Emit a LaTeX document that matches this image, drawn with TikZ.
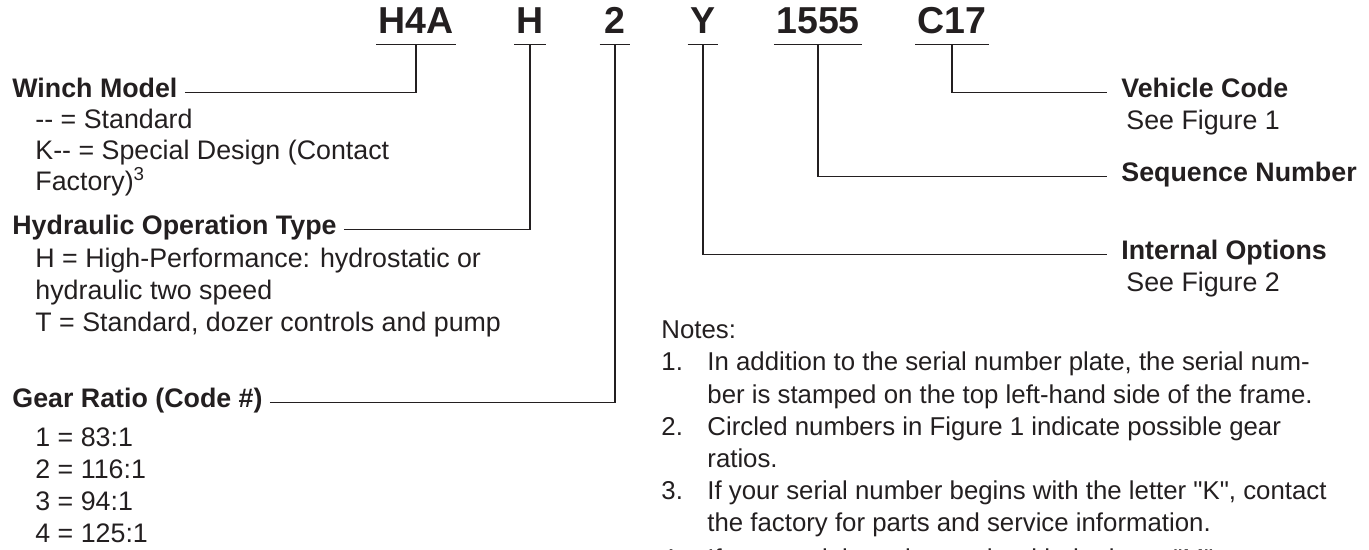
\documentclass[tikz,border=0pt]{standalone}
\usepackage{fontspec}
\setmainfont{Liberation Sans}
\usetikzlibrary{positioning}
\definecolor{tinta}{RGB}{35,31,32}
\newcommand{\bodysize}{\fontsize{13.4}{16}\selectfont}
\newcommand{\notesize}{\fontsize{12.9}{16}\selectfont}
\tikzstyle{serialpart}=[font=\bfseries\fontsize{18.75}{20}\selectfont, anchor=base,
text depth=0pt, inner xsep=1pt, inner ysep=5pt, minimum width=15pt]
\tikzstyle{fieldname}=[font=\bodysize\bfseries, anchor=base west,
text height=1ex, text depth=0pt, inner xsep=3.5pt, inner ysep=0pt]
\tikzstyle{fieldright}=[fieldname, inner xsep=7pt]
\tikzstyle{fieldvalue}=[font=\bodysize, anchor=base west, inner sep=0pt]
\tikzstyle{noteline}=[font=\notesize, anchor=base west, inner sep=0pt]
\tikzstyle{leader}=[draw=tinta, line width=0.6pt]

\begin{document}
\begin{tikzpicture}[x=0.5pt, y=-0.5pt, color=tinta]
		\useasboundingbox (0,0) rectangle (1369,550);
		\clip (0,0) rectangle (1369,550);
		% serial number
		\node[serialpart] (h4a) at (416,34) {H4A};
		\node[serialpart] (hyd) at (530,34) {H};
		\node[serialpart] (gear) at (615,34) {2};
		\node[serialpart] (opt) at (703,34) {Y};
		\node[serialpart] (seq) at (818,34) {1555};
		\node[serialpart] (veh) at (952,34) {C17};
		\draw[leader] (h4a.south west) -- (h4a.south east);
		\draw[leader] (hyd.south west) -- (hyd.south east);
		\draw[leader] (gear.south west) -- (gear.south east);
		\draw[leader] (opt.south west) -- (opt.south east);
		\draw[leader] (seq.south west) -- (seq.south east);
		\draw[leader] (veh.south west) -- (veh.south east);
		% left fields
		\node[fieldname] (winch) at (5,98) {Winch Model};
		\node[fieldvalue] (wm1) at (35,129) {-{}- = Standard};
		\node[fieldvalue] (wm2) at (35,160) {K-{}- = Special Design (Contact};
		\node[fieldvalue] (wm3) at (35,191) {Factory)\textsuperscript{3}};
		\node[fieldname] (hydtype) at (5,235) {Hydraulic Operation Type};
		\node[fieldvalue] (ht1) at (35,268) {H = High-Performance: hydrostatic or};
		\node[fieldvalue] (ht2) at (35,300) {hydraulic two speed};
		\node[fieldvalue] (ht3) at (35,332) {T = Standard, dozer controls and pump};
		\node[fieldname] (ratio) at (5,408) {Gear Ratio (Code \#)};
		\node[fieldvalue] (gr1) at (35,446) {1 = 83:1};
		\node[fieldvalue] (gr2) at (35,478) {2 = 116:1};
		\node[fieldvalue] (gr3) at (35,510) {3 = 94:1};
		\node[fieldvalue] (gr4) at (35,542) {4 = 125:1};
		% right fields
		\node[fieldright] (vehcode) at (1107,98) {Vehicle Code};
		\node[fieldvalue] (vc1) at (1126,130) {See Figure 1};
		\node[fieldright] (seqnum) at (1107,182) {Sequence Number};
		\node[fieldright] (intopt) at (1107,260) {Internal Options};
		\node[fieldvalue] (io1) at (1126,292) {See Figure 2};
		% leaders
		\draw[leader] (winch.east) -| (h4a.south);
		\draw[leader] (hydtype.east) -| (hyd.south);
		\draw[leader] (ratio.east) -| (gear.south);
		\draw[leader] (opt.south) |- (intopt.west);
		\draw[leader] (seq.south) |- (seqnum.west);
		\draw[leader] (veh.south) |- (vehcode.west);
		% notes
		\node[noteline] (notes) at (661,339) {Notes:};
		\node[noteline] (n1) at (661,371) {1.};
		\node[noteline] (n1a) at (707,371) {In addition to the serial number plate, the serial num-};
		\node[noteline] (n1b) at (707,403) {ber is stamped on the top left-hand side of the frame.};
		\node[noteline] (n2) at (661,435) {2.};
		\node[noteline] (n2a) at (707,435) {Circled numbers in Figure 1 indicate possible gear};
		\node[noteline] (n2b) at (707,467) {ratios.};
		\node[noteline] (n3) at (661,499) {3.};
		\node[noteline] (n3a) at (707,499) {If your serial number begins with the letter \textquotedbl K\textquotedbl, contact};
		\node[noteline] (n3b) at (707,531) {the factory for parts and service information.};
		\node[noteline] (n4) at (661,567) {4.};
		\node[noteline] (n4a) at (707,567) {If your serial number ends with the letter \textquotedbl M\textquotedbl, contact};
	\end{tikzpicture}
\end{document}
